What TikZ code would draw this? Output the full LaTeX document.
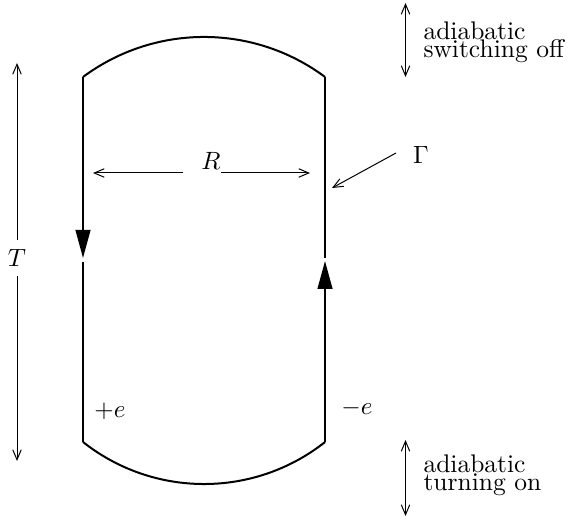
\documentclass[tikz,border=0pt]{standalone}
\usetikzlibrary{arrows.meta}
\tikzset{
  contour/.style={line width=0.8pt},
  flowtip/.style={-{Triangle[length=11.2pt,width=5.9pt]}},
  vec/.style={line width=0.4pt, -{Straight Barb[length=4pt,width=3.4pt]}},
  dvec/.style={line width=0.4pt,
    {Straight Barb[length=4pt,width=3.4pt]}-{Straight Barb[length=4pt,width=3.4pt]}},
  lbl/.style={inner sep=0pt},
  note/.style={inner sep=0pt, align=left, font=\fontsize{10.2}{7.4}\selectfont},
}
\begin{document}
\begin{tikzpicture}[x=0.4pt,y=0.4pt]
  \useasboundingbox (0,0) rectangle (572,518);

  % corners of the contour
  \coordinate (tl) at (83,441);
  \coordinate (tr) at (325,441);
  \coordinate (bl) at (83,76);
  \coordinate (br) at (325,76);
  \coordinate (ltip) at (83,260);
  \coordinate (lgap) at (83,256);
  \coordinate (rtip) at (325,257);
  \coordinate (rgap) at (325,260);

  % contour
  \draw[contour] (tl) arc[start angle=126.6, end angle=53.4, radius=203];
  \draw[contour] (bl) arc[start angle=231.7, end angle=308.3, radius=195.3];
  \draw[contour, flowtip] (tl) -- (ltip);
  \draw[contour] (lgap) -- (bl);
  \draw[contour, flowtip] (br) -- (rtip);
  \draw[contour] (rgap) -- (tr);

  % time extent
  \node[lbl, inner sep=3.5pt] (T) at (17,260) {$T$};
  \coordinate (Ttop) at (17,455);
  \coordinate (Tbot) at (17,57);
  \draw[vec] (T) -- (Ttop);
  \draw[vec] (T) -- (Tbot);

  % separation
  \node[lbl] (R) at (211,357) {$R$};
  \coordinate (Rl) at (183,345);
  \coordinate (Rr) at (221,345);
  \coordinate (Rlt) at (93,345);
  \coordinate (Rrt) at (310,345);
  \draw[vec] (Rl) -- (Rlt);
  \draw[vec] (Rr) -- (Rrt);

  % contour label
  \node[lbl] (G) at (421,363) {$\Gamma$};
  \coordinate (Gs) at (396,365);
  \coordinate (Gt) at (332,330);
  \draw[vec] (Gs) -- (Gt);

  % charges
  \node[lbl] (pe) at (110,107) {$+e$};
  \node[lbl] (me) at (357,110) {$-e$};

  % adiabatic regions
  \coordinate (offtop) at (405.5,515);
  \coordinate (offbot) at (405.5,441);
  \coordinate (ontop) at (405.5,78);
  \coordinate (onbot) at (405.5,2);
  \draw[dvec] (offbot) -- (offtop);
  \draw[dvec] (onbot) -- (ontop);
  \node[note, anchor=base west] (off) at (423,460) {adiabatic\\switching off};
  \node[note, anchor=base west] (on) at (423,27) {adiabatic\\turning on};

\end{tikzpicture}
\end{document}
